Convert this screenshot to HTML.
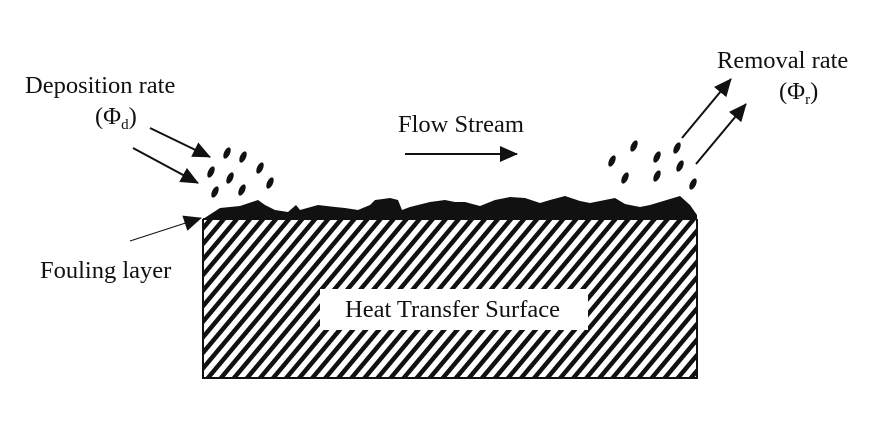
<!DOCTYPE html>
<html><head><meta charset="utf-8"><style>
body{margin:0;background:#fff;width:880px;height:422px;overflow:hidden}
text{font-family:"Liberation Serif",serif;fill:#111}
</style></head><body>
<svg width="880" height="422" viewBox="0 0 880 422" xmlns="http://www.w3.org/2000/svg">
<defs>
<pattern id="h" patternUnits="userSpaceOnUse" width="10" height="10" patternTransform="rotate(40)">
<rect x="0" y="0" width="4.5" height="10" fill="#111"/>
</pattern>
<marker id="b" markerWidth="18" markerHeight="16" refX="17" refY="8" orient="auto" markerUnits="userSpaceOnUse">
<path d="M0,0 L18,8 L0,16 Z" fill="#111"/>
</marker>
</defs>
<rect x="203" y="219" width="494" height="159" fill="url(#h)"/>
<rect x="320" y="289" width="268" height="41" fill="#fff"/>
<path d="M203,219 V378 H697 V219" fill="none" stroke="#111" stroke-width="2"/>
<path d="M203,219 L220,208 L240,206 L258,200 L265,205 L275,210 L288,212 L296,205 L300,210 L318,205 L335,207 L345,208 L358,210 L370,205 L375,200 L390,198 L398,200 L402,210 L410,207 L430,202 L445,200 L455,202 L465,202 L480,206 L495,200 L510,197 L525,198 L540,203 L550,200 L565,196 L580,201 L590,203 L605,200 L615,198 L625,204 L640,207 L650,205 L660,202 L670,199 L680,196 L690,205 L697,215 L697,219 Z" fill="#111"/>
<line x1="203" y1="219" x2="697" y2="219" stroke="#111" stroke-width="2"/>
<g fill="#111">
<ellipse cx="227" cy="153" rx="3" ry="6" transform="rotate(25 227 153)"/>
<ellipse cx="243" cy="157" rx="3" ry="6" transform="rotate(25 243 157)"/>
<ellipse cx="211" cy="172" rx="3" ry="6" transform="rotate(25 211 172)"/>
<ellipse cx="230" cy="178" rx="3" ry="6" transform="rotate(25 230 178)"/>
<ellipse cx="260" cy="168" rx="3" ry="6" transform="rotate(25 260 168)"/>
<ellipse cx="270" cy="183" rx="3" ry="6" transform="rotate(25 270 183)"/>
<ellipse cx="215" cy="192" rx="3" ry="6" transform="rotate(25 215 192)"/>
<ellipse cx="242" cy="190" rx="3" ry="6" transform="rotate(25 242 190)"/>
<ellipse cx="634" cy="146" rx="3" ry="6" transform="rotate(25 634 146)"/>
<ellipse cx="612" cy="161" rx="3" ry="6" transform="rotate(25 612 161)"/>
<ellipse cx="657" cy="157" rx="3" ry="6" transform="rotate(25 657 157)"/>
<ellipse cx="677" cy="148" rx="3" ry="6" transform="rotate(25 677 148)"/>
<ellipse cx="625" cy="178" rx="3" ry="6" transform="rotate(25 625 178)"/>
<ellipse cx="657" cy="176" rx="3" ry="6" transform="rotate(25 657 176)"/>
<ellipse cx="680" cy="166" rx="3" ry="6" transform="rotate(25 680 166)"/>
<ellipse cx="693" cy="184" rx="3" ry="6" transform="rotate(25 693 184)"/>
</g>
<g stroke="#111" stroke-width="2" fill="none">
<line x1="150" y1="128" x2="210" y2="157" marker-end="url(#b)"/>
<line x1="133" y1="148" x2="198" y2="183" marker-end="url(#b)"/>
<line x1="682" y1="138" x2="731" y2="79" marker-end="url(#b)"/>
<line x1="696" y1="164" x2="746" y2="104" marker-end="url(#b)"/>
<line x1="405" y1="154" x2="517" y2="154" marker-end="url(#b)"/>
<line x1="130" y1="241" x2="201" y2="218" stroke-width="1" marker-end="url(#b)"/>
</g>
<text x="25" y="93" font-size="24.5">Deposition rate</text>
<text x="95" y="124" font-size="24.5">(Φ<tspan font-size="15" dy="5">d</tspan><tspan dy="-5">)</tspan></text>
<text x="398" y="132" font-size="24.5">Flow Stream</text>
<text x="717" y="68" font-size="24.5">Removal rate</text>
<text x="779" y="99" font-size="24.5">(Φ<tspan font-size="15" dy="5">r</tspan><tspan dy="-5">)</tspan></text>
<text x="40" y="278" font-size="24.5">Fouling layer</text>
<text x="345" y="317" font-size="24.5">Heat Transfer Surface</text>
</svg>
</body></html>
